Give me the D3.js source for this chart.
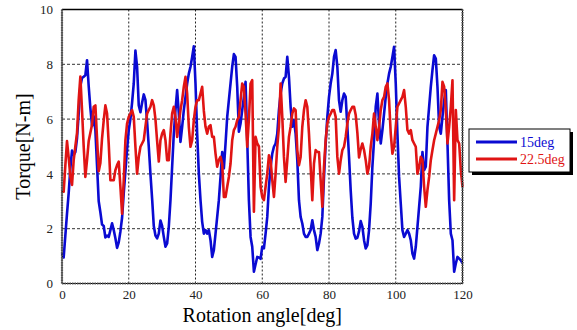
<!DOCTYPE html>
<html>
<head>
<meta charset="utf-8">
<script src="https://cdn.jsdelivr.net/npm/d3@7/dist/d3.min.js"></script>
<style>
  body { margin: 0; background: #fff; }
  text { font-family: "Liberation Serif", "DejaVu Serif", serif; }
</style>
</head>
<body>
<svg id="chart" width="577" height="330"></svg>
<script>
// rotation angle, 0.5 deg steps
const angles = d3.range(0, 120.01, 0.5);

const torque15 = [
  1.1, 0.95, 1.75, 2.55, 3.3, 4.2, 4.85, 4.7, 4.8, 5.3,
  6.2, 7.2, 7.5, 7.55, 7.6, 8.15, 7.2, 6.4, 5.75, 6.1,
  5.6, 4.3, 3.0, 2.6, 2.15, 2.1, 1.68, 1.75, 1.7, 1.95,
  2.2, 1.95, 1.65, 1.3, 1.5, 1.9, 2.4, 3.3, 4.1, 4.9,
  5.6, 6.0, 6.6, 7.3, 8.5, 7.9, 6.5, 6.25, 6.6, 6.9,
  6.7, 5.9, 5.0, 4.0, 3.1, 2.1, 1.75, 1.65, 1.82, 2.3,
  2.1, 1.7, 1.34, 1.46, 2.07, 3.04, 4.26, 5.47, 6.33, 7.06,
  6.2, 5.17, 5.72, 6.33, 6.81, 7.3, 7.66, 7.91, 8.27, 8.66,
  7.3, 5.47, 4.01, 3.04, 2.25, 1.82, 1.95, 1.82, 1.95, 1.58,
  0.97, 1.22, 1.82, 2.43, 3.04, 3.89, 4.8, 4.2, 5.11, 6.08,
  6.69, 7.3, 7.91, 8.37, 8.27, 7.18, 5.54, 5.84, 6.33, 6.81,
  7.36, 5.23, 3.04, 1.7, 1.34, 0.43, 0.7, 0.97, 0.95, 0.9,
  1.34, 1.28, 1.82, 2.43, 3.53, 4.26, 4.74, 4.99, 5.11, 5.47,
  6.33, 6.93, 7.3, 7.48, 7.54, 8.27, 7.54, 6.45, 5.72, 5.96,
  5.47, 4.5, 3.04, 2.43, 2.19, 1.82, 1.7, 1.7, 1.82, 1.95,
  2.31, 1.95, 1.7, 1.22, 1.46, 1.82, 2.43, 3.89, 5.11, 6.08,
  6.81, 7.3, 7.66, 8.27, 8.52, 7.91, 6.69, 6.27, 6.69, 6.93,
  6.81, 5.72, 4.62, 3.4, 2.4, 1.82, 1.64, 1.67, 1.9, 2.28,
  2.07, 1.58, 1.28, 1.4, 1.95, 2.92, 4.26, 5.23, 6.45, 6.93,
  5.84, 5.11, 5.6, 6.2, 6.81, 7.3, 7.66, 7.91, 8.27, 8.64,
  7.3, 5.47, 3.89, 2.92, 1.95, 1.7, 1.82, 1.95, 1.82, 1.58,
  1.09, 0.91, 1.34, 2.07, 2.8, 3.53, 4.8, 4.14, 4.26, 5.72,
  6.45, 7.18, 7.79, 8.33, 8.21, 7.18, 5.72, 5.47, 6.08, 6.69,
  7.06, 5.11, 3.04, 1.82, 1.58, 0.43, 0.73, 0.97, 0.91, 0.85,
  0.73
];

const torque225 = [
  3.4, 3.35, 4.3, 5.2, 4.6, 3.9, 3.6, 4.5, 5.0, 5.5,
  6.7, 7.55, 6.33, 4.99, 3.89, 4.5, 5.2, 5.5, 5.8, 6.45,
  6.5, 5.3, 4.1, 4.4, 5.3, 5.95, 6.5, 6.2, 5.1, 3.77,
  3.77, 3.77, 4.14, 4.32, 4.45, 3.53, 2.55, 3.77, 5.23, 5.84,
  6.08, 6.2, 6.33, 6.08, 4.99, 4.01, 4.62, 4.99, 5.11, 5.23,
  5.72, 6.2, 6.33, 6.45, 6.69, 6.5, 6.0, 5.2, 4.45, 5.23,
  5.47, 5.6, 5.23, 4.5, 4.5, 5.47, 6.2, 6.45, 6.08, 5.35,
  5.84, 6.33, 6.69, 7.18, 7.54, 6.93, 5.72, 4.99, 5.23, 5.96,
  6.45, 6.69, 6.69, 6.93, 7.18, 6.3, 5.72, 5.47, 5.72, 5.78,
  5.35, 5.35, 4.74, 4.26, 4.5, 4.62, 4.38, 3.16, 3.16, 3.53,
  3.89, 4.38, 5.23, 5.6, 5.72, 5.96, 6.08, 6.69, 7.3, 7.18,
  6.2, 4.99, 6.0, 7.3, 7.42, 2.62, 5.35, 5.11, 5.0, 3.53,
  3.16, 3.04, 3.53, 4.01, 4.68, 4.5, 3.77, 3.16, 4.01, 4.99,
  5.72, 7.3, 6.08, 4.62, 3.71, 4.5, 5.35, 5.72, 6.2, 6.39,
  6.33, 4.87, 4.32, 4.62, 5.72, 6.33, 6.69, 6.45, 5.47, 4.26,
  3.04, 4.38, 4.87, 4.8, 4.8, 3.77, 2.8, 4.26, 5.23, 5.84,
  6.08, 6.2, 6.33, 6.33, 6.08, 4.62, 4.01, 4.5, 4.87, 4.99,
  5.35, 5.84, 6.2, 6.33, 6.45, 6.45, 6.15, 5.5, 4.6, 4.9,
  5.11, 4.87, 4.5, 4.01, 4.26, 4.99, 5.47, 6.2, 5.72, 5.23,
  5.72, 6.33, 6.69, 6.81, 7.18, 7.3, 6.69, 5.47, 4.74, 4.99,
  5.72, 6.45, 6.57, 6.69, 6.81, 7.06, 6.45, 5.6, 5.47, 5.6,
  5.23, 5.11, 4.99, 4.01, 4.26, 4.62, 4.5, 3.53, 2.8, 3.41,
  3.89, 4.5, 4.87, 5.23, 5.47, 5.72, 5.96, 6.33, 7.36, 7.18,
  6.33, 5.11, 5.72, 6.45, 7.42, 3.04, 6.33, 5.23, 5.11, 4.14,
  3.53
];

const seriesNames = ["15deg", "22.5deg"];
const seriesColors = ["#0a0ad2", "#e01414"];
const xTicks = [0, 20, 40, 60, 80, 100, 120];
const yTicks = [0, 2, 4, 6, 8, 10];

const svg = d3.select("#chart");
const plotL = 62, plotR = 462.5, plotT = 9.5, plotB = 283.5;

const x = d3.scaleLinear().domain([0, 120]).range([plotL, plotR]);
const y = d3.scaleLinear().domain([0, 10]).range([plotB, plotT]);

// grid
svg.append("g")
  .selectAll("line")
  .data(xTicks.slice(1, -1))
  .join("line")
  .attr("x1", d => x(d)).attr("x2", d => x(d))
  .attr("y1", plotT).attr("y2", plotB)
  .attr("stroke", "#222").attr("stroke-width", 1)
  .attr("stroke-dasharray", "2,2");

svg.append("g")
  .selectAll("line")
  .data(yTicks.slice(1, -1))
  .join("line")
  .attr("x1", plotL).attr("x2", plotR)
  .attr("y1", d => y(d)).attr("y2", d => y(d))
  .attr("stroke", "#333").attr("stroke-width", 1)
  .attr("stroke-dasharray", "3,2");

// lines
const line = d3.line()
  .x((d, i) => x(angles[i]))
  .y(d => y(d));

[torque15, torque225].forEach((vals, k) => {
  svg.append("path")
    .datum(vals)
    .attr("d", line)
    .attr("fill", "none")
    .attr("stroke", seriesColors[k])
    .attr("stroke-width", 2.6)
    .attr("stroke-linejoin", "round");
});

// frame
svg.append("line")
  .attr("x1", plotL).attr("x2", plotR).attr("y1", plotT).attr("y2", plotT)
  .attr("stroke", "#000").attr("stroke-width", 1.5);
[[plotL, plotT, plotL, plotB], [plotL, plotB, plotR, plotB], [plotR, plotT, plotR, plotB]]
  .forEach(([x1, y1, x2, y2]) => {
    svg.append("line")
      .attr("x1", x1).attr("y1", y1).attr("x2", x2).attr("y2", y2)
      .attr("stroke", "#000").attr("stroke-width", 1);
    svg.append("line")
      .attr("x1", x1).attr("y1", y1).attr("x2", x2).attr("y2", y2)
      .attr("stroke", "#555").attr("stroke-width", 2.2)
      .attr("stroke-dasharray", "1.5,1");
  });

// axes
const xAxis = d3.axisBottom(x).tickValues(xTicks).tickSize(0).tickPadding(6);
const gx = svg.append("g").attr("transform", `translate(0,${plotB})`).call(xAxis);
gx.select(".domain").remove();
gx.selectAll("text").attr("font-size", 13).attr("fill", "#222")
  .attr("font-family", "Liberation Serif, serif");

const yAxis = d3.axisLeft(y).tickValues(yTicks).tickSize(0).tickPadding(9);
const gy = svg.append("g").attr("transform", `translate(${plotL},0)`).call(yAxis);
gy.select(".domain").remove();
gy.selectAll("text").attr("font-size", 13).attr("fill", "#222")
  .attr("font-family", "Liberation Serif, serif");

// titles
svg.append("text")
  .attr("x", (plotL + plotR) / 2).attr("y", 322)
  .attr("text-anchor", "middle")
  .attr("font-size", 20)
  .text("Rotation angle[deg]");

svg.append("text")
  .attr("transform", `translate(30,${(plotT + plotB) / 2}) rotate(-90)`)
  .attr("text-anchor", "middle")
  .attr("font-size", 20)
  .text("Torque[N-m]");

// legend
const lg = svg.append("g").attr("transform", "translate(469,129)");
lg.append("rect").attr("x", 3).attr("y", 3).attr("width", 101).attr("height", 43).attr("fill", "#000");
lg.append("rect").attr("x", 0).attr("y", 0).attr("width", 101).attr("height", 43)
  .attr("fill", "#fff").attr("stroke", "#000").attr("stroke-width", 1);
seriesNames.forEach((name, k) => {
  const yy = 13 + k * 17;
  lg.append("line").attr("x1", 7).attr("x2", 48).attr("y1", yy).attr("y2", yy)
    .attr("stroke", seriesColors[k]).attr("stroke-width", 3);
  lg.append("text").attr("x", 51).attr("y", yy + 5)
    .attr("font-size", 14).attr("fill", seriesColors[k]).text(name);
});
</script>
</body>
</html>
